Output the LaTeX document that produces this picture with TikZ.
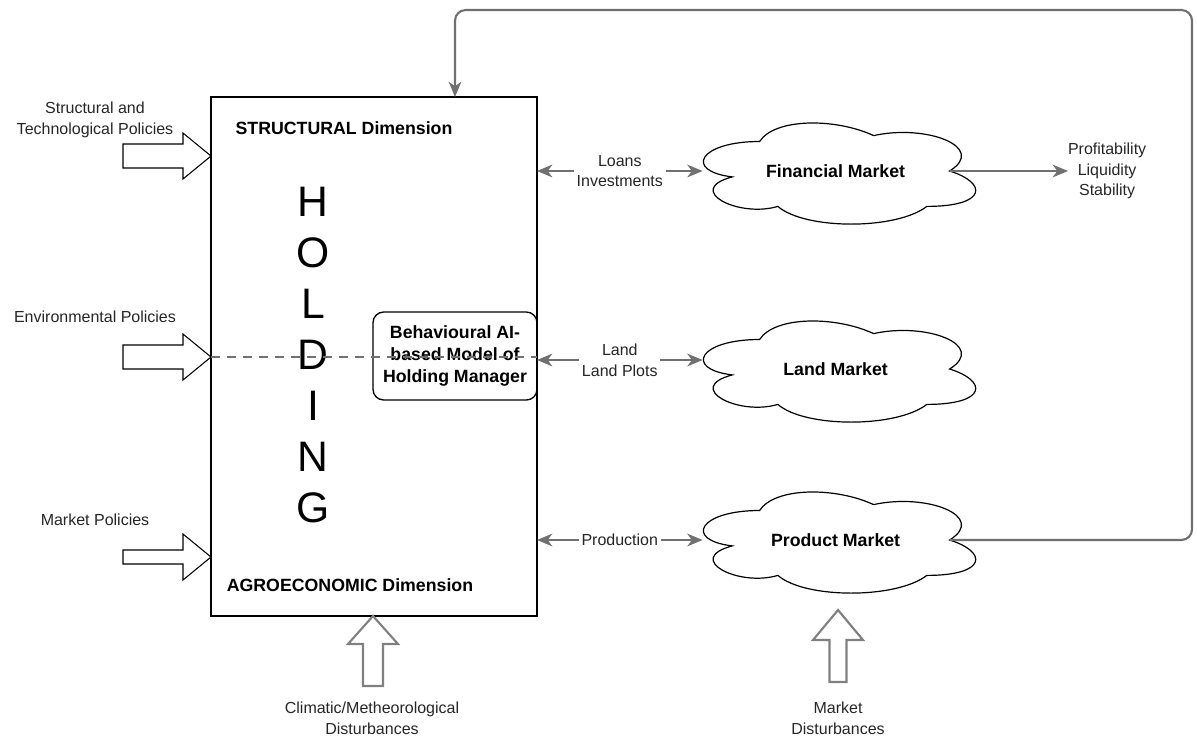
\documentclass[tikz,border=0pt]{standalone}
\usepackage{fontspec}
\setmainfont{Liberation Sans}
\usetikzlibrary{arrows.meta,calc}

\definecolor{linkgray}{RGB}{112,112,112}
\definecolor{blockgray}{RGB}{128,128,128}

% draw.io style cloud outline over the box of a named node
\newcommand\cloudoutline[1]{%
  \begin{scope}[shift={(#1.north west)}, x=228pt, y=-88.5pt]
    \draw[black, line width=0.9pt]
      (0.25,0.25) .. controls (0.05,0.25) and (0,0.5) .. (0.16,0.55)
      .. controls (0,0.66) and (0.18,0.9) .. (0.31,0.8)
      .. controls (0.4,1) and (0.7,1) .. (0.8,0.8)
      .. controls (1,0.8) and (1,0.6) .. (0.875,0.5)
      .. controls (1,0.3) and (0.8,0.1) .. (0.625,0.2)
      .. controls (0.5,0.05) and (0.3,0.05) .. (0.25,0.25) -- cycle;
  \end{scope}}

\begin{document}
\begin{tikzpicture}[x=0.75pt, y=-0.75pt,
  every node/.style={inner sep=0pt, outer sep=0pt},
  lbl/.style={font=\fontsize{12}{15.5}\selectfont, align=center, text=black!85},
  boldlbl/.style={font=\fontsize{13.3}{16.5}\selectfont\bfseries, align=center},
  cloudnode/.style={boldlbl, minimum width=228pt, minimum height=88.5pt},
  link/.style={draw=linkgray, line width=1.6pt, -{Stealth[length=11.5pt, width=9.5pt, inset=3.5pt]}},
  biarrow/.style={draw=linkgray, line width=1.6pt, {Stealth[length=11.5pt, width=9.5pt, inset=3.5pt]}-{Stealth[length=11.5pt, width=9.5pt, inset=3.5pt]}},
  tag/.style={lbl, fill=white, inner sep=2pt},
  blockblack/.style={draw=black, line width=0.8pt, fill=white, line join=miter},
  blockgraystyle/.style={draw=blockgray, line width=1.6pt, fill=white, line join=miter},
  dashline/.style={draw=linkgray, line width=1.5pt, dash pattern=on 7pt off 5pt},
]
\useasboundingbox (0,0) rectangle (1197,740);

% the holding box with its dimension labels
\node[draw, line width=1pt, minimum width=244.5pt, minimum height=389.25pt, anchor=north west] (holding) at (211,97) {};
\node[boldlbl] (structural) at (344,128) {STRUCTURAL Dimension};
\node[boldlbl] (agro) at (350,585) {AGROECONOMIC Dimension};
\node[font=\fontsize{32}{38.3}\selectfont, align=center] (holdingtxt) at (313,355) {H\\O\\L\\D\\I\\N\\G};

% manager model
\node[draw, line width=1pt, rounded corners=8pt, minimum width=123pt, minimum height=66pt, boldlbl] (manager) at (455,356)
  {Behavioural AI-\\based Model of\\Holding Manager};

% markets
\node[cloudnode] (fin) at (835.6,171) {Financial Market};
\node[cloudnode] (land) at (835.6,369) {Land Market};
\node[cloudnode] (prod) at (835.6,540) {Product Market};
\cloudoutline{fin}
\cloudoutline{land}
\cloudoutline{prod}

\coordinate (finport) at ($(fin.west)+(19,0)$);
\coordinate (landport) at ($(land.west)+(19,-9)$);
\coordinate (prodport) at ($(prod.west)+(19,0)$);
\coordinate (fincusp) at ($(fin.west)+(266,0)$);
\coordinate (prodcusp) at ($(prod.west)+(266,0)$);

\draw[biarrow] (holding.east |- finport) -- node[tag] (loans) {Loans\\Investments} (finport);
\draw[biarrow] (holding.east |- landport) -- node[tag] (landlbl) {Land\\Land Plots} (landport);
\draw[biarrow] (holding.east |- prodport) -- node[tag] (prodlbl) {Production} (prodport);

% market performance
\node[lbl, anchor=west] (perf) at (1068,171) {Profitability\\Liquidity\\Stability};
\draw[link] (fincusp) -- (perf.west);

% feedback from the product market back to the holding
\coordinate (loopcorner) at (1192,10);
\coordinate (topin) at ($(holding.north west)+(244,0)$);
\draw[link, rounded corners=8pt] (prodcusp) -| (loopcorner) -| (topin);

% policies
\node[lbl] (structpol) at (95,120) {Structural and\\Technological Policies};
\node[lbl] (envpol) at (95,317) {Environmental Policies};
\node[lbl] (mktpol) at (95,520) {Market Policies};

\coordinate (tipA) at (holding.west |- 0,156);
\coordinate (tipB) at (holding.west |- 0,357);
\coordinate (tipC) at (holding.west |- 0,557);
\draw[blockblack] (tipA) -- ++(-28,-23) -- ++(0,11) -- ++(-60,0) -- ++(0,24) -- ++(60,0) -- ++(0,11) -- cycle;
\draw[blockblack] (tipB) -- ++(-28,-23) -- ++(0,11) -- ++(-60,0) -- ++(0,24) -- ++(60,0) -- ++(0,11) -- cycle;
\draw[blockblack] (tipC) -- ++(-28,-23) -- ++(0,16) -- ++(-60,0) -- ++(0,14) -- ++(60,0) -- ++(0,16) -- cycle;

% environmental policies reach the manager model
\draw[dashline] (tipB) -- (holding.east |- tipB);

% disturbances
\node[lbl] (climdist) at (372,718) {Climatic/Metheorological\\Disturbances};
\node[lbl] (mktdist) at (838,718) {Market\\Disturbances};

\coordinate (tipD) at (holding.south -| 373,0);
\coordinate (tipE) at ($(prod.south)+(2.4,11)$);
\draw[blockgraystyle] (tipD) -- ++(25,28) -- ++(-15,0) -- ++(0,42) -- ++(-20,0) -- ++(0,-42) -- ++(-15,0) -- cycle;
\draw[blockgraystyle] (tipE) -- ++(25,30) -- ++(-16.5,0) -- ++(0,42) -- ++(-17,0) -- ++(0,-42) -- ++(-16.5,0) -- cycle;
\end{tikzpicture}
\end{document}
